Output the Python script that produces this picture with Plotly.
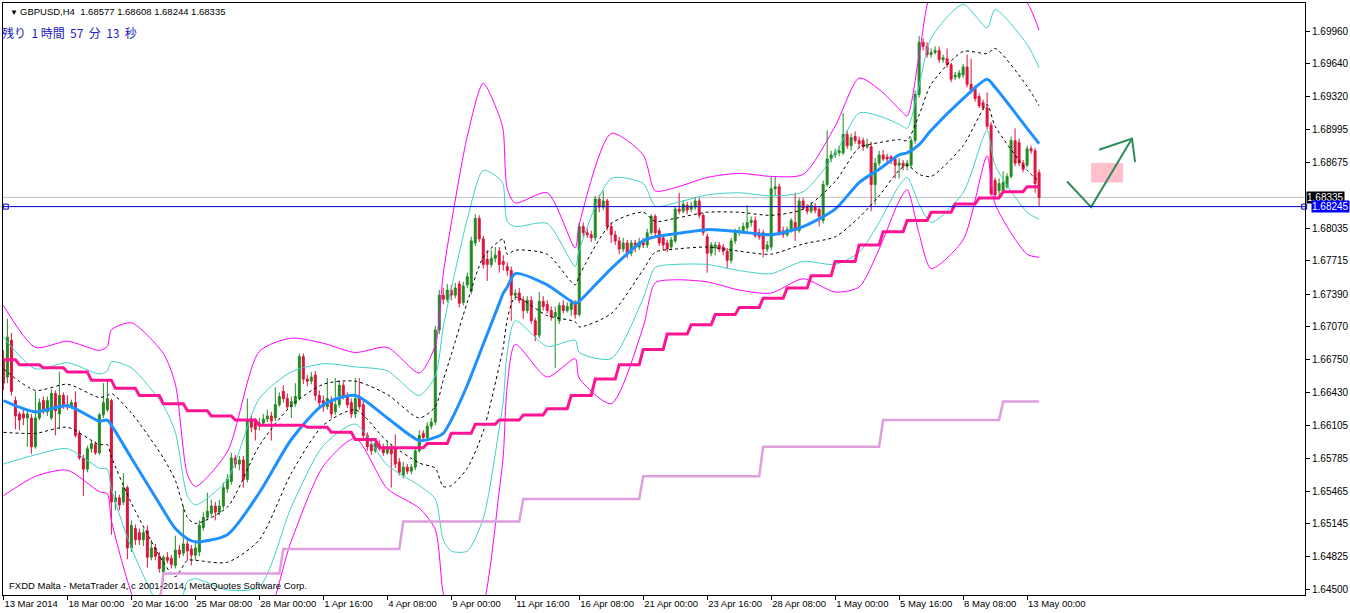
import plotly.graph_objects as go

# ---------------- candle data (H4 bars, index 0 = 13 Mar 2014 08:00) ----------------
OPEN = [
 1.6674,1.6658,1.6694,1.6635,1.6622,1.6622,1.6618,1.6618,1.6590,1.6618,
 1.6635,1.6624,1.6618,1.6642,1.6622,1.6640,1.6631,1.6629,1.6633,1.6603,
 1.6579,1.6568,1.6588,1.6592,1.6584,1.6621,1.6626,1.6635,1.6536,1.6540,
 1.6536,1.6550,1.6491,1.6510,1.6506,1.6499,1.6508,1.6482,1.6491,1.6483,
 1.6468,1.6482,1.6481,1.6474,1.6489,1.6486,1.6495,1.6490,1.6484,1.6487,
 1.6511,1.6521,1.6525,1.6532,1.6526,1.6532,1.6549,1.6556,1.6579,1.6573,
 1.6577,1.6558,1.6616,1.6615,1.6611,1.6613,1.6617,1.6620,1.6618,1.6631,
 1.6644,1.6637,1.6629,1.6632,1.6637,1.6678,1.6656,1.6654,1.6660,1.6640,
 1.6635,1.6629,1.6635,1.6624,1.6631,1.6650,1.6640,1.6633,1.6622,1.6639,
 1.6631,1.6601,1.6592,1.6586,1.6592,1.6589,1.6584,1.6588,1.6588,1.6575,
 1.6562,1.6570,1.6566,1.6570,1.6586,1.6603,1.6599,1.6610,1.6614,1.6704,
 1.6738,1.6734,1.6743,1.6738,1.6749,1.6731,1.6748,1.6742,1.6789,1.6813,
 1.6793,1.6773,1.6768,1.6774,1.6781,1.6771,1.6766,1.6762,1.6738,1.6740,
 1.6733,1.6723,1.6733,1.6713,1.6699,1.6732,1.6729,1.6723,1.6717,1.6713,
 1.6728,1.6723,1.6724,1.6730,1.6719,1.6805,1.6799,1.6797,1.6794,1.6832,
 1.6824,1.6830,1.6805,1.6797,1.6791,1.6783,1.6789,1.6779,1.6789,1.6785,
 1.6790,1.6787,1.6799,1.6815,1.6801,1.6794,1.6789,1.6785,1.6791,1.6822,
 1.6820,1.6826,1.6822,1.6824,1.6830,1.6816,1.6795,1.6779,1.6784,1.6787,
 1.6785,1.6781,1.6772,1.6791,1.6799,1.6801,1.6804,1.6809,1.6811,1.6799,
 1.6799,1.6783,1.6785,1.6842,1.6844,1.6801,1.6797,1.6802,1.6809,1.6801,
 1.6830,1.6824,1.6820,1.6824,1.6822,1.6811,1.6846,1.6871,1.6875,1.6877,
 1.6877,1.6895,1.6884,1.6893,1.6889,1.6889,1.6883,1.6883,1.6846,1.6867,
 1.6875,1.6873,1.6873,1.6871,1.6865,1.6867,1.6864,1.6865,1.6889,1.6934,
 1.6985,1.6981,1.6973,1.6975,1.6977,1.6968,1.6969,1.6963,1.6951,1.6951,
 1.6953,1.6961,1.6944,1.6940,1.6932,1.6926,1.6921,1.6904,1.6850,1.6840,
 1.6840,1.6844,1.6854,1.6889,1.6887,1.6867,1.6865,1.6881,1.6879,1.68577]
HIGH = [
 1.6684,1.6715,1.6701,1.6639,1.6624,1.6626,1.6626,1.6622,1.6644,1.6637,
 1.6639,1.6639,1.6646,1.6645,1.6663,1.6643,1.6640,1.6636,1.6644,1.6606,
 1.6582,1.6591,1.6596,1.6595,1.6623,1.6652,1.6655,1.6637,1.6547,1.6543,
 1.6564,1.6552,1.6518,1.6514,1.6510,1.6510,1.6513,1.6499,1.6495,1.6487,
 1.6484,1.6487,1.6484,1.6503,1.6494,1.6532,1.6499,1.6494,1.6497,1.6518,
 1.6526,1.6545,1.6538,1.6536,1.6538,1.6555,1.6563,1.6584,1.6582,1.6581,
 1.6581,1.6637,1.6621,1.6618,1.6618,1.6622,1.6626,1.6624,1.6648,1.6643,
 1.6650,1.6642,1.6639,1.6652,1.6681,1.6681,1.6660,1.6663,1.6664,1.6645,
 1.6640,1.6657,1.6639,1.6657,1.6655,1.6653,1.6643,1.6637,1.6657,1.6657,
 1.6635,1.6604,1.6596,1.6598,1.6596,1.6593,1.6596,1.6592,1.6602,1.6579,
 1.6575,1.6573,1.6573,1.6589,1.6606,1.6606,1.6614,1.6618,1.6708,1.6743,
 1.6745,1.6749,1.6748,1.6750,1.6752,1.6751,1.6760,1.6795,1.6817,1.6816,
 1.6796,1.6782,1.6782,1.6785,1.6785,1.6777,1.6770,1.6766,1.6744,1.6745,
 1.6737,1.6737,1.6737,1.6716,1.6741,1.6737,1.6733,1.6727,1.6727,1.6731,
 1.6733,1.6731,1.6734,1.6733,1.6809,1.6809,1.6803,1.6801,1.6835,1.6836,
 1.6840,1.6832,1.6809,1.6801,1.6795,1.6794,1.6792,1.6792,1.6792,1.6794,
 1.6794,1.6803,1.6817,1.6817,1.6804,1.6797,1.6792,1.6795,1.6825,1.6838,
 1.6831,1.6829,1.6829,1.6834,1.6833,1.6818,1.6798,1.6790,1.6790,1.6790,
 1.6788,1.6784,1.6794,1.6803,1.6805,1.6809,1.6826,1.6815,1.6815,1.6803,
 1.6802,1.6791,1.6854,1.6854,1.6847,1.6805,1.6805,1.6813,1.6838,1.6833,
 1.6833,1.6827,1.6829,1.6828,1.6825,1.6850,1.6899,1.6879,1.6881,1.6884,
 1.6916,1.6899,1.6896,1.6898,1.6893,1.6892,1.6891,1.6888,1.6872,1.6879,
 1.6880,1.6876,1.6875,1.6874,1.6872,1.6870,1.6870,1.6892,1.6938,1.6991,
 1.6989,1.6985,1.6979,1.6981,1.6981,1.6973,1.6979,1.6965,1.6956,1.6958,
 1.6964,1.6973,1.6969,1.6943,1.6935,1.6929,1.6936,1.6907,1.6853,1.6852,
 1.6859,1.6857,1.6893,1.6901,1.6891,1.6870,1.6884,1.6884,1.6882,1.68608]
LOW = [
 1.6645,1.6652,1.6640,1.6607,1.6606,1.6611,1.6590,1.6583,1.6588,1.6616,
 1.6622,1.6620,1.6616,1.6601,1.6607,1.6627,1.6626,1.6627,1.6599,1.6577,
 1.6542,1.6565,1.6584,1.6582,1.6582,1.6618,1.6624,1.6504,1.6528,1.6528,
 1.6533,1.6480,1.6487,1.6494,1.6494,1.6493,1.6472,1.6479,1.6479,1.6467,
 1.6458,1.6476,1.6471,1.6471,1.6481,1.6483,1.6479,1.6474,1.6479,1.6483,
 1.6508,1.6518,1.6522,1.6518,1.6523,1.6529,1.6545,1.6553,1.6569,1.6567,
 1.6550,1.6555,1.6604,1.6596,1.6606,1.6610,1.6614,1.6596,1.6615,1.6629,
 1.6633,1.6626,1.6618,1.6629,1.6635,1.6651,1.6649,1.6651,1.6635,1.6628,
 1.6624,1.6626,1.6618,1.6621,1.6628,1.6636,1.6628,1.6618,1.6618,1.6626,
 1.6598,1.6586,1.6582,1.6584,1.6586,1.6581,1.6582,1.6550,1.6569,1.6562,
 1.6559,1.6563,1.6563,1.6567,1.6584,1.6595,1.6596,1.6607,1.6611,1.6700,
 1.6729,1.6731,1.6733,1.6735,1.6726,1.6728,1.6745,1.6739,1.6786,1.6790,
 1.6764,1.6752,1.6765,1.6770,1.6760,1.6762,1.6757,1.6713,1.6733,1.6730,
 1.6715,1.6720,1.6710,1.6693,1.6696,1.6723,1.6720,1.6713,1.6667,1.6710,
 1.6720,1.6721,1.6718,1.6715,1.6717,1.6795,1.6794,1.6790,1.6791,1.6819,
 1.6821,1.6801,1.6789,1.6787,1.6778,1.6780,1.6774,1.6776,1.6780,1.6782,
 1.6784,1.6784,1.6797,1.6795,1.6786,1.6782,1.6780,1.6782,1.6789,1.6817,
 1.6818,1.6817,1.6819,1.6821,1.6813,1.6796,1.6760,1.6776,1.6777,1.6780,
 1.6777,1.6764,1.6769,1.6788,1.6796,1.6798,1.6801,1.6805,1.6794,1.6792,
 1.6775,1.6780,1.6782,1.6835,1.6796,1.6794,1.6795,1.6799,1.6791,1.6799,
 1.6821,1.6817,1.6818,1.6818,1.6805,1.6808,1.6844,1.6868,1.6872,1.6874,
 1.6875,1.6881,1.6879,1.6886,1.6882,1.6879,1.6881,1.6820,1.6826,1.6864,
 1.6869,1.6868,1.6866,1.6852,1.6852,1.6860,1.6860,1.6862,1.6886,1.6931,
 1.6977,1.6970,1.6970,1.6973,1.6965,1.6965,1.6960,1.6946,1.6948,1.6949,
 1.6950,1.6941,1.6935,1.6927,1.6921,1.6919,1.6900,1.6835,1.6832,1.6834,
 1.6837,1.6842,1.6852,1.6864,1.6864,1.6858,1.6863,1.6876,1.6838,1.68244]
CLOSE = [
 1.6652,1.6697,1.6644,1.6620,1.6616,1.6618,1.6622,1.6590,1.6618,1.6633,
 1.6625,1.6635,1.6642,1.6625,1.6640,1.6631,1.6629,1.6633,1.6601,1.6579,
 1.6568,1.6588,1.6593,1.6584,1.6621,1.6633,1.6637,1.6536,1.6540,1.6533,
 1.6550,1.6491,1.6513,1.6499,1.6499,1.6506,1.6482,1.6491,1.6483,1.6471,
 1.6482,1.6479,1.6475,1.6489,1.6485,1.6495,1.6488,1.6484,1.6491,1.6513,
 1.6521,1.6527,1.6532,1.6526,1.6532,1.6550,1.6558,1.6579,1.6573,1.6577,
 1.6558,1.6616,1.6609,1.6607,1.6613,1.6617,1.6620,1.6615,1.6631,1.6639,
 1.6637,1.6629,1.6634,1.6639,1.6678,1.6656,1.6654,1.6658,1.6640,1.6633,
 1.6629,1.6637,1.6622,1.6631,1.6650,1.6639,1.6631,1.6622,1.6637,1.6629,
 1.6601,1.6590,1.6586,1.6593,1.6589,1.6584,1.6590,1.6583,1.6573,1.6565,
 1.6570,1.6566,1.6570,1.6586,1.6601,1.6599,1.6610,1.6614,1.6704,1.6738,
 1.6734,1.6743,1.6738,1.6745,1.6730,1.6747,1.6756,1.6791,1.6813,1.6793,
 1.6768,1.6768,1.6774,1.6777,1.6768,1.6768,1.6762,1.6738,1.6740,1.6733,
 1.6723,1.6733,1.6713,1.6699,1.6732,1.6727,1.6723,1.6717,1.6721,1.6728,
 1.6723,1.6727,1.6730,1.6719,1.6805,1.6799,1.6797,1.6794,1.6832,1.6824,
 1.6830,1.6805,1.6797,1.6791,1.6783,1.6789,1.6779,1.6789,1.6785,1.6790,
 1.6787,1.6799,1.6815,1.6799,1.6789,1.6787,1.6783,1.6792,1.6822,1.6820,
 1.6827,1.6821,1.6825,1.6830,1.6816,1.6799,1.6779,1.6787,1.6787,1.6783,
 1.6781,1.6772,1.6791,1.6799,1.6801,1.6805,1.6809,1.6811,1.6796,1.6795,
 1.6783,1.6787,1.6842,1.6844,1.6799,1.6797,1.6802,1.6811,1.6801,1.6830,
 1.6823,1.6820,1.6826,1.6821,1.6815,1.6846,1.6871,1.6875,1.6877,1.6879,
 1.6895,1.6884,1.6892,1.6889,1.6886,1.6883,1.6885,1.6846,1.6867,1.6875,
 1.6871,1.6871,1.6869,1.6865,1.6867,1.6864,1.6867,1.6889,1.6934,1.6985,
 1.6981,1.6973,1.6975,1.6977,1.6968,1.6970,1.6963,1.6949,1.6953,1.6955,
 1.6961,1.6944,1.6938,1.6930,1.6923,1.6921,1.6903,1.6837,1.6836,1.6847,
 1.6848,1.6854,1.6889,1.6867,1.6867,1.6861,1.6881,1.6879,1.6847,1.68335]

# ---------------- axis labels ----------------
TICK_BARS = [0, 16, 32, 48, 64, 80, 96, 112, 128, 144, 160, 176, 192, 208, 224, 240, 256]
TICK_TEXT = ["13 Mar 2014", "18 Mar 00:00", "20 Mar 16:00", "25 Mar 08:00", "28 Mar 00:00",
             "1 Apr 16:00", "4 Apr 08:00", "9 Apr 00:00", "11 Apr 16:00", "16 Apr 08:00",
             "21 Apr 00:00", "23 Apr 16:00", "28 Apr 08:00", "1 May 00:00", "5 May 16:00",
             "8 May 08:00", "13 May 00:00"]
PRICE_TICKS = [1.69960, 1.69640, 1.69320, 1.68995, 1.68675, 1.68035, 1.67715, 1.67390,
               1.67070, 1.66750, 1.66430, 1.66105, 1.65785, 1.65465, 1.65145, 1.64825, 1.64500]

# ---------------- Bollinger(20): middle line and standard deviation read at sample bars ----------------
BAND_BARS = [0, 8, 16, 24, 26, 27, 32, 40, 43, 46, 48, 56, 64, 72, 80, 88, 96, 104, 108, 110,
             112, 116, 120, 124, 125, 126, 128, 136, 143, 144, 152, 160, 163, 168, 176, 184,
             192, 200, 208, 214, 219, 224, 226, 229, 232, 240, 246, 248, 256, 259]
MA_VALUES = [1.6635, 1.6624, 1.6630, 1.6615, 1.6616, 1.6611, 1.6579, 1.6528, 1.6510, 1.6500,
             1.6497, 1.6504, 1.6545, 1.6597, 1.6631, 1.6640, 1.6618, 1.6596, 1.6599, 1.6603,
             1.6616, 1.6650, 1.6690, 1.6730, 1.6740, 1.6746, 1.6759, 1.6748, 1.6730, 1.6732,
             1.6764, 1.6791, 1.6795, 1.6798, 1.6802, 1.6800, 1.6797, 1.6805, 1.6822, 1.6848,
             1.6861, 1.6875, 1.6877, 1.6885, 1.6899, 1.6930, 1.6949, 1.6941, 1.6901, 1.6886]
SD_VALUES = [0.0031, 0.0021, 0.0021, 0.0023, 0.0024, 0.0031, 0.0044, 0.0051, 0.0047, 0.0021,
             0.0018, 0.0027, 0.0046, 0.0033, 0.0020, 0.0014, 0.0023, 0.0022, 0.0030, 0.0052,
             0.0064, 0.0081, 0.0085, 0.0061, 0.0053, 0.0032, 0.0023, 0.0030, 0.0018, 0.0025,
             0.0044, 0.0028, 0.0015, 0.0015, 0.0017, 0.0019, 0.0019, 0.0017, 0.0027, 0.0034,
             0.0026, 0.0015, 0.0012, 0.0029, 0.0045, 0.0046, 0.0025, 0.0038, 0.0041, 0.0037]

# ---------------- daily / weekly step indicators ----------------
DAY_START = [0, 4, 10, 16, 22, 28, 34, 40, 46, 52, 58, 64, 70, 76, 82, 88, 94, 100, 106, 112,
             118, 124, 130, 136, 142, 148, 154, 160, 166, 172, 178, 184, 190, 196, 202, 208,
             214, 220, 226, 232, 238, 244, 250, 256]
DAILY_LINE = [1.6675, 1.6670, 1.6667, 1.6663, 1.6655, 1.6647, 1.6640, 1.6632, 1.6625, 1.6620,
              1.6616, 1.6611, 1.6611, 1.6609, 1.6604, 1.6597, 1.6589, 1.6589, 1.6593, 1.6603,
              1.6612, 1.6616, 1.6621, 1.6627, 1.6640, 1.6656, 1.6670, 1.6685, 1.6700, 1.6709,
              1.6719, 1.6726, 1.6735, 1.6745, 1.6757, 1.6771, 1.6787, 1.6800, 1.6811, 1.6819,
              1.6827, 1.6833, 1.6839, 1.6844]
WEEK_START = [39, 40, 70, 100, 130, 160, 190, 220, 250]
WEEKLY_LINE = [1.6435, 1.6466, 1.6490, 1.6517, 1.6539, 1.6561, 1.6590, 1.6616, 1.6634]

# ---------------- price lines & drawn objects ----------------
BID_PRICE = 1.68335
HLINE_PRICE = 1.68245
ARROW_BARS = [266, 272, 282.25]
ARROW_PRICES = [1.6849, 1.6824, 1.6891]
HEAD_BARS = [274, 282.25, 283]
HEAD_PRICES = [1.6880, 1.6891, 1.6868]
BOX_BARS = [272, 280]
BOX_PRICES = [1.6848, 1.6867]

N_BARS = len(CLOSE)
BARS = list(range(N_BARS))
GREEN = "#228B22"
RED = "#DC143C"
FONT = "Liberation Sans"

fig = go.Figure()

fig.add_trace(go.Candlestick(
    x=BARS, open=OPEN, high=HIGH, low=LOW, close=CLOSE,
    increasing=dict(line=dict(color=GREEN, width=1), fillcolor=GREEN),
    decreasing=dict(line=dict(color=RED, width=1), fillcolor=RED),
    whiskerwidth=0, hoverinfo="skip"))

# bands
for k, color, dash in [(3, "#FF00FF", "solid"), (2, "#40D0C8", "solid"), (1, "#000000", "dot")]:
    for sgn in (1, -1):
        vals = [m + sgn * k * s for m, s in zip(MA_VALUES, SD_VALUES)]
        fig.add_trace(go.Scatter(x=BAND_BARS, y=vals, mode="lines",
                                 line=dict(color=color, width=1, dash=dash, shape="spline", smoothing=0.7),
                                 hoverinfo="skip"))

fig.add_trace(go.Scatter(x=BAND_BARS, y=MA_VALUES, mode="lines",
                         line=dict(color="#1E90FF", width=3, shape="spline", smoothing=0.7),
                         hoverinfo="skip"))

# daily step line
daily_y = []
for i in BARS:
    idx = max(j for j, s in enumerate(DAY_START) if s <= i)
    daily_y.append(DAILY_LINE[idx])
fig.add_trace(go.Scatter(x=BARS, y=daily_y, mode="lines",
                         line=dict(color="#FF1493", width=3), hoverinfo="skip"))

# weekly step line
wk_x = list(range(WEEK_START[0], N_BARS))
wk_y = []
for i in wk_x:
    idx = max(j for j, s in enumerate(WEEK_START) if s <= i)
    wk_y.append(WEEKLY_LINE[idx])
fig.add_trace(go.Scatter(x=wk_x, y=wk_y, mode="lines",
                         line=dict(color="#DDA0DD", width=2.5), hoverinfo="skip"))

# drawn objects
fig.add_shape(type="rect", x0=BOX_BARS[0], x1=BOX_BARS[1], y0=BOX_PRICES[0], y1=BOX_PRICES[1],
              fillcolor="#FFC0CB", line=dict(width=0), layer="below")
fig.add_trace(go.Scatter(x=ARROW_BARS, y=ARROW_PRICES, mode="lines",
                         line=dict(color="#2E8B57", width=2), hoverinfo="skip"))
fig.add_trace(go.Scatter(x=HEAD_BARS, y=HEAD_PRICES, mode="lines",
                         line=dict(color="#2E8B57", width=2), hoverinfo="skip"))

fig.add_shape(type="line", xref="paper", x0=0, x1=1, y0=BID_PRICE, y1=BID_PRICE,
              line=dict(color="#C0C0C0", width=1), layer="below")
fig.add_shape(type="line", xref="paper", x0=0, x1=1, y0=HLINE_PRICE, y1=HLINE_PRICE,
              line=dict(color="#0000CD", width=1))
fig.add_trace(go.Scatter(x=[0.6, 325.3], y=[HLINE_PRICE, HLINE_PRICE], mode="markers",
                         marker=dict(symbol="square-open", size=5, color="#0000CD", line=dict(width=1)),
                         cliponaxis=False, hoverinfo="skip"))

annotations = [
    dict(xref="paper", yref="paper", x=0, y=1, xshift=5, yshift=-3, xanchor="left", yanchor="top",
         text="▼", showarrow=False, font=dict(family=FONT, size=8, color="black")),
    dict(xref="paper", yref="paper", x=0, y=1, xshift=15, yshift=-1, xanchor="left", yanchor="top",
         text="GBPUSD,H4  1.68577 1.68608 1.68244 1.68335", showarrow=False,
         font=dict(family=FONT, size=9.5, color="black")),
    dict(xref="paper", yref="paper", x=0, y=1, xshift=-3, yshift=-19, xanchor="left", yanchor="top",
         text="残り  1 時間  57  分  13  秒", showarrow=False,
         font=dict(family="Noto Sans CJK JP", size=12, color="#2020C0")),
    dict(xref="paper", yref="paper", x=0, y=0, xshift=4, yshift=2, xanchor="left", yanchor="bottom",
         text="FXDD Malta - MetaTrader 4, c 2001-2014, MetaQuotes Software Corp.", showarrow=False,
         font=dict(family=FONT, size=9.5, color="black")),
    dict(xref="paper", yref="y", x=1, y=BID_PRICE, xshift=1, xanchor="left", yanchor="middle",
         text="1.68335", showarrow=False, bgcolor="black", borderpad=0,
         font=dict(family=FONT, size=10, color="white")),
    dict(xref="paper", yref="y", x=1, y=HLINE_PRICE, xshift=6, xanchor="left", yanchor="middle",
         text="1.68245", showarrow=False, bgcolor="#0000FF", borderpad=0,
         font=dict(family=FONT, size=10, color="white")),
]

fig.update_layout(
    width=1350, height=613,
    margin=dict(l=3, r=45, t=3, b=18),
    plot_bgcolor="white", paper_bgcolor="white",
    showlegend=False,
    annotations=annotations,
    xaxis=dict(range=[-0.1, 325.5], showgrid=False, zeroline=False, rangeslider=dict(visible=False),
               showline=True, linecolor="black", linewidth=1, mirror=True,
               ticks="outside", ticklen=4, tickcolor="black", tickangle=0,
               tickvals=TICK_BARS, ticktext=TICK_TEXT, ticklabelposition="outside right",
               tickfont=dict(family=FONT, size=9.5, color="black"), automargin=False),
    yaxis=dict(side="right", range=[1.64451, 1.70234], showgrid=False, zeroline=False,
               showline=True, linecolor="black", linewidth=1, mirror=True,
               ticks="outside", ticklen=4, tickcolor="black",
               tickvals=PRICE_TICKS, ticktext=["%.5f" % v for v in PRICE_TICKS],
               tickfont=dict(family=FONT, size=10, color="black"), automargin=False),
)

fig.write_html("out.html", config={"displayModeBar": False},
               post_script="document.body.style.margin='0';document.body.style.overflow='hidden';")
